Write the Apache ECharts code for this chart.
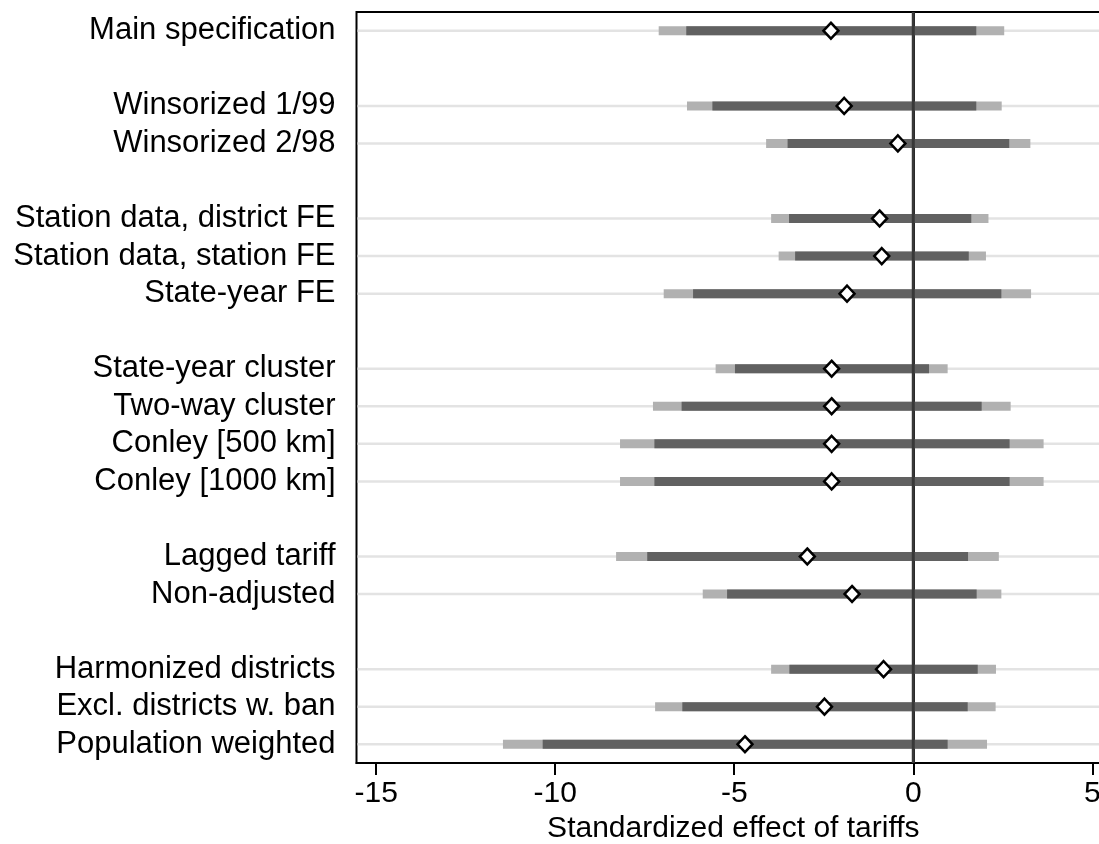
<!DOCTYPE html>
<html>
<head>
<meta charset="utf-8">
<script src="https://cdn.jsdelivr.net/npm/echarts@6/dist/echarts.min.js"></script>
<style>
html,body{margin:0;padding:0;background:#fff;}
#chart{width:1099px;height:844px;}
</style>
</head>
<body>
<div id="chart"></div>
<script>
// Rows (top to bottom); empty strings are spacer rows
const categories = ['Main specification', '', 'Winsorized 1/99', 'Winsorized 2/98', '',
  'Station data, district FE', 'Station data, station FE', 'State-year FE', '',
  'State-year cluster', 'Two-way cluster', 'Conley [500 km]', 'Conley [1000 km]', '',
  'Lagged tariff', 'Non-adjusted', '',
  'Harmonized districts', 'Excl. districts w. ban', 'Population weighted'];
// Point estimates
const estimate = [-2.30, null, -1.93, -0.43, null, -0.94, -0.88, -1.85, null,
  -2.28, -2.28, -2.28, -2.28, null, -2.96, -1.71, null, -0.83, -2.48, -4.70];
// Outer (light) interval
const ciLow95 = [-7.11, null, -6.32, -4.11, null, -3.97, -3.76, -6.97, null,
  -5.52, -7.27, -8.19, -8.19, null, -8.30, -5.88, null, -3.97, -7.21, -11.46];
const ciHigh95 = [2.54, null, 2.47, 3.27, null, 2.10, 2.03, 3.29, null,
  0.96, 2.72, 3.64, 3.64, null, 2.39, 2.46, null, 2.31, 2.30, 2.06];
// Inner (dark) interval
const ciLow90 = [-6.34, null, -5.61, -3.51, null, -3.47, -3.30, -6.15, null,
  -4.98, -6.47, -7.23, -7.23, null, -7.43, -5.20, null, -3.46, -6.45, -10.35];
const ciHigh90 = [1.76, null, 1.76, 2.68, null, 1.62, 1.55, 2.46, null,
  0.44, 1.91, 2.69, 2.69, null, 1.53, 1.77, null, 1.80, 1.52, 0.96];
const xTicks = [-15, -10, -5, 0, 5];
const xTitle = 'Standardized effect of tariffs';

const FONT = "'Liberation Sans', Arial, Helvetica, sans-serif";

const rowIdx = categories.map((c, i) => i).filter(i => categories[i] !== '');
const barData = rowIdx.map(i => [i, ciLow95[i], ciLow90[i], ciHigh90[i], ciHigh95[i]]);
const pointData = rowIdx.map(i => [estimate[i], i]);
const gridData = rowIdx.map(i => [i]);

const chart = echarts.init(document.getElementById('chart'), null, {renderer: 'canvas'});
chart.setOption({
  animation: false,
  backgroundColor: '#fff',
  grid: {left: 356.5, top: 12, right: -11.2, bottom: 81, show: true,
    outerBoundsMode: 'none', containLabel: false,
    borderColor: '#000', borderWidth: 2, backgroundColor: 'transparent'},
  xAxis: {
    type: 'value', min: -15.55, max: 5.5,
    name: xTitle, nameLocation: 'middle', nameGap: 31,
    nameTextStyle: {fontFamily: FONT, fontSize: 30, color: '#000'},
    axisLine: {show: true, onZero: false, lineStyle: {color: '#000', width: 2}},
    axisTick: {show: true, length: 12, lineStyle: {color: '#000', width: 2}, customValues: xTicks},
    axisLabel: {show: true, fontFamily: FONT, fontSize: 30, color: '#000', margin: 16, customValues: xTicks},
    splitLine: {show: false}
  },
  yAxis: {
    type: 'category', data: categories, inverse: true,
    axisLine: {show: true, lineStyle: {color: '#000', width: 2}},
    axisTick: {show: true, length: 12, alignWithLabel: true,
      interval: (i, v) => v !== '', lineStyle: {color: '#000', width: 2}},
    axisLabel: {show: true, fontFamily: FONT, fontSize: 31, color: '#000', margin: 21,
      interval: (i, v) => v !== ''},
    splitLine: {show: false}
  },
  series: [
    {
      type: 'custom', name: 'gridlines', z: 1, silent: true,
      data: gridData,
      encode: {y: 0},
      renderItem: function (params, api) {
        const p = api.coord([0, api.value(0)]);
        const cs = params.coordSys;
        return {type: 'line', shape: {x1: cs.x + 1, y1: p[1], x2: cs.x + cs.width, y2: p[1]},
          style: {stroke: '#e3e3e3', lineWidth: 2.5}};
      }
    },
    {
      type: 'custom', name: 'intervals', z: 2, silent: true,
      data: barData,
      encode: {y: 0, x: [1, 2, 3, 4]},
      renderItem: function (params, api) {
        const y = api.value(0);
        const a = api.coord([api.value(1), y]);
        const b = api.coord([api.value(2), y]);
        const c = api.coord([api.value(3), y]);
        const d = api.coord([api.value(4), y]);
        const h = 9;
        return {type: 'group', children: [
          {type: 'rect', shape: {x: a[0], y: a[1] - h / 2, width: d[0] - a[0], height: h},
            style: {fill: '#b1b1b1'}},
          {type: 'rect', shape: {x: b[0], y: b[1] - h / 2, width: c[0] - b[0], height: h},
            style: {fill: '#616161'}}
        ]};
      }
    },
    {
      type: 'custom', name: 'zero', z: 3, silent: true,
      data: [[0]],
      encode: {x: 0},
      renderItem: function (params, api) {
        const cs = params.coordSys;
        const p = api.coord([api.value(0), 0]);
        return {type: 'line', shape: {x1: p[0], y1: cs.y, x2: p[0], y2: cs.y + cs.height},
          style: {stroke: '#383838', lineWidth: 3}};
      }
    },
    {
      type: 'scatter', name: 'estimate', z: 4, silent: true,
      data: pointData,
      symbol: 'diamond', symbolSize: [15, 16],
      itemStyle: {color: '#fff', borderColor: '#000', borderWidth: 2.5, opacity: 1}
    }
  ]
});
</script>
</body>
</html>
